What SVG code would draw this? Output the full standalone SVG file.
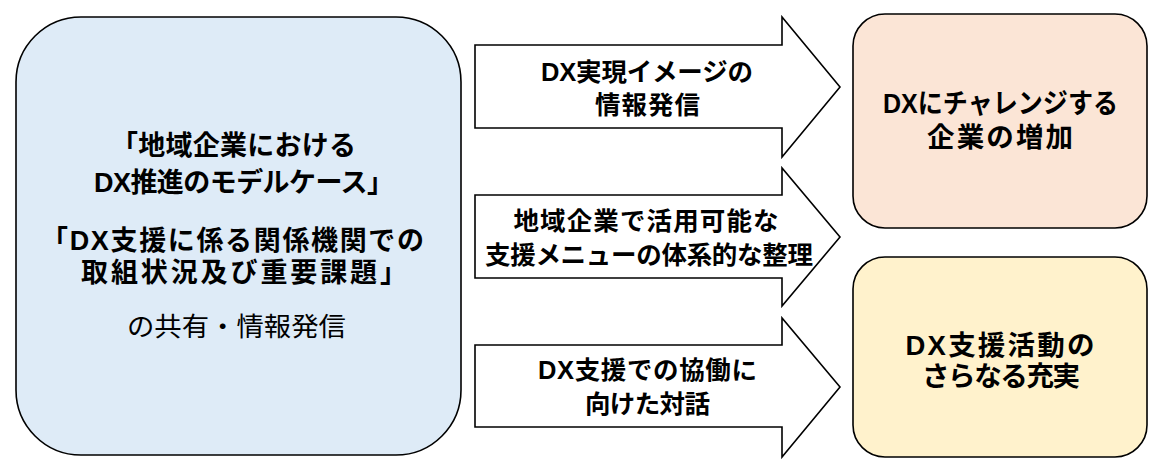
<svg xmlns="http://www.w3.org/2000/svg" width="1164" height="467" viewBox="0 0 1164 467">
<style>
.box{stroke:#000;stroke-width:1.6}
.arr{fill:#fff;stroke:#000;stroke-width:1.6;stroke-linejoin:miter}
text{font-family:"Liberation Sans","Noto Sans CJK JP",sans-serif;fill:#000;text-anchor:middle}
.b{font-weight:bold}
.l{font-size:27px}
.a{font-size:25.5px}
.r{font-size:27.5px}
</style>
<rect width="1164" height="467" fill="#fff"/>
<g id="source">
<rect class="box" x="16" y="17" width="445" height="438" rx="65" fill="#DEEBF7"/>
<text class="b l"><tspan x="233.5" y="155" textLength="245" lengthAdjust="spacing">「地域企業における</tspan><tspan x="244" y="192" textLength="300" lengthAdjust="spacing">DX推進のモデルケース」</tspan></text>
<text class="b l"><tspan x="232.5" y="250" textLength="383" lengthAdjust="spacing">「DX支援に係る関係機関での</tspan><tspan x="244" y="282" textLength="326" lengthAdjust="spacing">取組状況及び重要課題」</tspan></text>
<text class="l" x="236.5" y="336" style="font-size:26px" textLength="219" lengthAdjust="spacingAndGlyphs">の共有・情報発信</text>
</g>
<g id="connectors">
<g id="arrow1">
<path class="arr" d="M475,45 H782 V17 L840,87 L782,157 V128 H475 Z"/>
<text class="b a"><tspan x="647" y="81" textLength="212" lengthAdjust="spacing">DX実現イメージの</tspan><tspan x="647.5" y="114" textLength="105" lengthAdjust="spacing">情報発信</tspan></text>
</g>
<g id="arrow2">
<path class="arr" d="M475,195 H782 V168 L840,237 L782,306 V278 H475 Z"/>
<text class="b a"><tspan x="646" y="230" textLength="265" lengthAdjust="spacing">地域企業で活用可能な</tspan><tspan x="649" y="264" textLength="328" lengthAdjust="spacing">支援メニューの体系的な整理</tspan></text>
</g>
<g id="arrow3">
<path class="arr" d="M475,345 H782 V318 L840,387 L782,457 V427 H475 Z"/>
<text class="b a"><tspan x="647.5" y="379" textLength="219" lengthAdjust="spacing">DX支援での協働に</tspan><tspan x="647.5" y="413" textLength="125" lengthAdjust="spacing">向けた対話</tspan></text>
</g>
</g>
<g id="result1">
<rect class="box" x="853" y="14" width="294" height="214" rx="32" fill="#FBE5D6"/>
<text class="b r"><tspan x="1000.5" y="113" textLength="235" lengthAdjust="spacingAndGlyphs">DXにチャレンジする</tspan><tspan x="1000" y="147" textLength="146" lengthAdjust="spacing">企業の増加</tspan></text>
</g>
<g id="result2">
<rect class="box" x="853" y="257" width="294" height="200" rx="32" fill="#FFF2CC"/>
<text class="b r"><tspan x="1000" y="355" textLength="189" lengthAdjust="spacing">DX支援活動の</tspan><tspan x="1001" y="386" textLength="158" lengthAdjust="spacing">さらなる充実</tspan></text>
</g>
</svg>
